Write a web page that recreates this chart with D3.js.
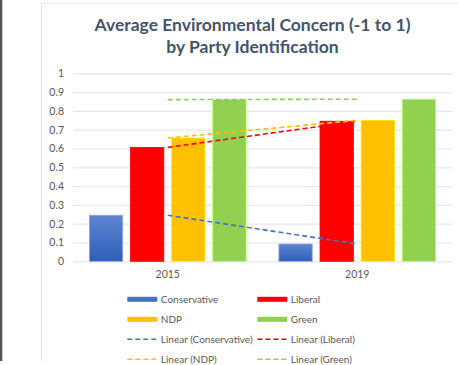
<!DOCTYPE html>
<html>
<head>
<meta charset="utf-8">
<script src="https://cdn.jsdelivr.net/npm/d3@7"></script>
<style>
  html, body { margin: 0; padding: 0; background: #fff; }
  svg { display: block; }
</style>
</head>
<body>
<div id="chart"></div>
<script>
// Data
const years = ["2015", "2019"];
const parties = ["Conservative", "Liberal", "NDP", "Green"];
const conservative = [0.245, 0.092];
const liberal = [0.606, 0.745];
const ndp = [0.656, 0.75];
const green = [0.86, 0.862];
const yTicks = [0, 0.1, 0.2, 0.3, 0.4, 0.5, 0.6, 0.7, 0.8, 0.9, 1];
const titleLines = ["Average Environmental Concern (-1 to 1)", "by Party Identification"];

const values = { Conservative: conservative, Liberal: liberal, NDP: ndp, Green: green };
const colors = { Conservative: "#4472C4", Liberal: "#FF0000", NDP: "#FFC000", Green: "#92D050" };

const W = 458, H = 365;
const plot = { left: 73, right: 452, top: 73.3, bottom: 261.3 };
const font = "Lato, 'Open Sans', sans-serif";

const svg = d3.select("#chart").append("svg")
    .attr("width", W)
    .attr("height", H);

// gradient for conservative bars
const defs = svg.append("defs");
const grad = defs.append("linearGradient")
    .attr("id", "consGrad")
    .attr("x1", 0).attr("y1", 0).attr("x2", 0).attr("y2", 1);
grad.append("stop").attr("offset", "0%").attr("stop-color", "#5F85D0");
grad.append("stop").attr("offset", "100%").attr("stop-color", "#2E5DB9");

// page background bits
svg.append("rect").attr("x", 0).attr("y", 0).attr("width", 2.3).attr("height", 361).attr("fill", "#555");
svg.append("line")
    .attr("x1", 41.5).attr("x2", 41.5).attr("y1", 3).attr("y2", 361)
    .attr("stroke", "#e3e3e3");
svg.append("line")
    .attr("x1", 41.5).attr("x2", W).attr("y1", 3.5).attr("y2", 3.5)
    .attr("stroke", "#ececec");

// Title
svg.append("g").selectAll("text")
    .data(titleLines)
    .join("text")
    .attr("x", 252.5)
    .attr("y", (d, i) => 31 + i * 22)
    .attr("text-anchor", "middle")
    .style("font-family", font)
    .style("font-weight", "bold")
    .style("font-size", "17.5px")
    .attr("fill", "#44546A")
    .text(d => d);

// Scales
const x0 = d3.scaleBand()
    .domain(years)
    .range([plot.left, plot.right]);

const x1 = d3.scaleBand()
    .domain(parties)
    .range([16.4, x0.bandwidth() - 16.4])
    .paddingInner(0.19);

const y = d3.scaleLinear()
    .domain([0, 1])
    .range([plot.bottom, plot.top]);

// Gridlines
svg.append("g")
    .attr("transform", `translate(${plot.left},0)`)
    .call(d3.axisLeft(y).tickValues(yTicks).tickSize(-(plot.right - plot.left)).tickFormat(""))
    .call(g => g.select(".domain").remove())
    .selectAll("line")
    .attr("stroke", "#e4e7ec")
    .attr("stroke-width", 1.2);

// Y axis labels
svg.append("g")
    .attr("transform", `translate(${plot.left},0)`)
    .call(d3.axisLeft(y).tickValues(yTicks).tickSize(0).tickPadding(9).tickFormat(d => d3.format("")(+d.toFixed(1))))
    .call(g => g.select(".domain").remove())
    .selectAll("text")
    .style("font-family", font)
    .style("font-size", "10.5px")
    .attr("fill", "#595959");

// X axis labels
svg.append("g")
    .attr("transform", `translate(0,${plot.bottom})`)
    .call(d3.axisBottom(x0).tickSize(0).tickPadding(9))
    .call(g => g.select(".domain").remove())
    .selectAll("text")
    .style("font-family", font)
    .style("font-size", "10.5px")
    .attr("fill", "#595959");

// Bars
const groups = svg.append("g").selectAll("g")
    .data(years)
    .join("g")
    .attr("transform", d => `translate(${x0(d)},0)`);

groups.selectAll("rect")
    .data((yr, i) => parties.map(p => ({ party: p, value: values[p][i] })))
    .join("rect")
    .attr("x", d => x1(d.party))
    .attr("y", d => y(d.value))
    .attr("width", x1.bandwidth())
    .attr("height", d => y(0) - y(d.value))
    .attr("fill", d => d.party === "Conservative" ? "url(#consGrad)" : colors[d.party])
    .attr("stroke", d => d.party === "Conservative" ? "#8fa9dc" : d3.color(colors[d.party]).brighter(0.6))
    .attr("stroke-width", 0.8);

// Trendlines (category center to center)
const trend = d3.line()
    .x((d, i) => x0(years[i]) + x0.bandwidth() / 2)
    .y(d => y(d));

svg.append("g").selectAll("path")
    .data(parties)
    .join("path")
    .attr("d", p => trend(values[p]))
    .attr("fill", "none")
    .attr("stroke", p => colors[p])
    .attr("stroke-width", 1.6)
    .attr("stroke-dasharray", "5,3");

// Legend
const legendItems = [
    { label: "Conservative", party: "Conservative", dashed: false },
    { label: "Liberal", party: "Liberal", dashed: false },
    { label: "NDP", party: "NDP", dashed: false },
    { label: "Green", party: "Green", dashed: false },
    { label: "Linear (Conservative)", party: "Conservative", dashed: true },
    { label: "Linear (Liberal)", party: "Liberal", dashed: true },
    { label: "Linear (NDP)", party: "NDP", dashed: true },
    { label: "Linear (Green)", party: "Green", dashed: true }
];

const legend = svg.append("g").selectAll("g")
    .data(legendItems)
    .join("g")
    .attr("transform", (d, i) => `translate(${i % 2 === 0 ? 127.3 : 257.3},${299.3 + Math.floor(i / 2) * 20})`);

legend.filter(d => !d.dashed).append("rect")
    .attr("x", 0).attr("y", -2.5)
    .attr("width", 30).attr("height", 5)
    .attr("fill", d => colors[d.party]);

legend.filter(d => d.dashed).append("line")
    .attr("x1", 0).attr("x2", 30).attr("y1", 0).attr("y2", 0)
    .attr("stroke", d => colors[d.party])
    .attr("stroke-width", 1.6)
    .attr("stroke-dasharray", "5,3");

legend.append("text")
    .attr("x", 33.5)
    .attr("y", 0)
    .attr("dy", "0.35em")
    .style("font-family", font)
    .style("font-size", "10px")
    .attr("fill", "#595959")
    .text(d => d.label);
</script>
</body>
</html>
